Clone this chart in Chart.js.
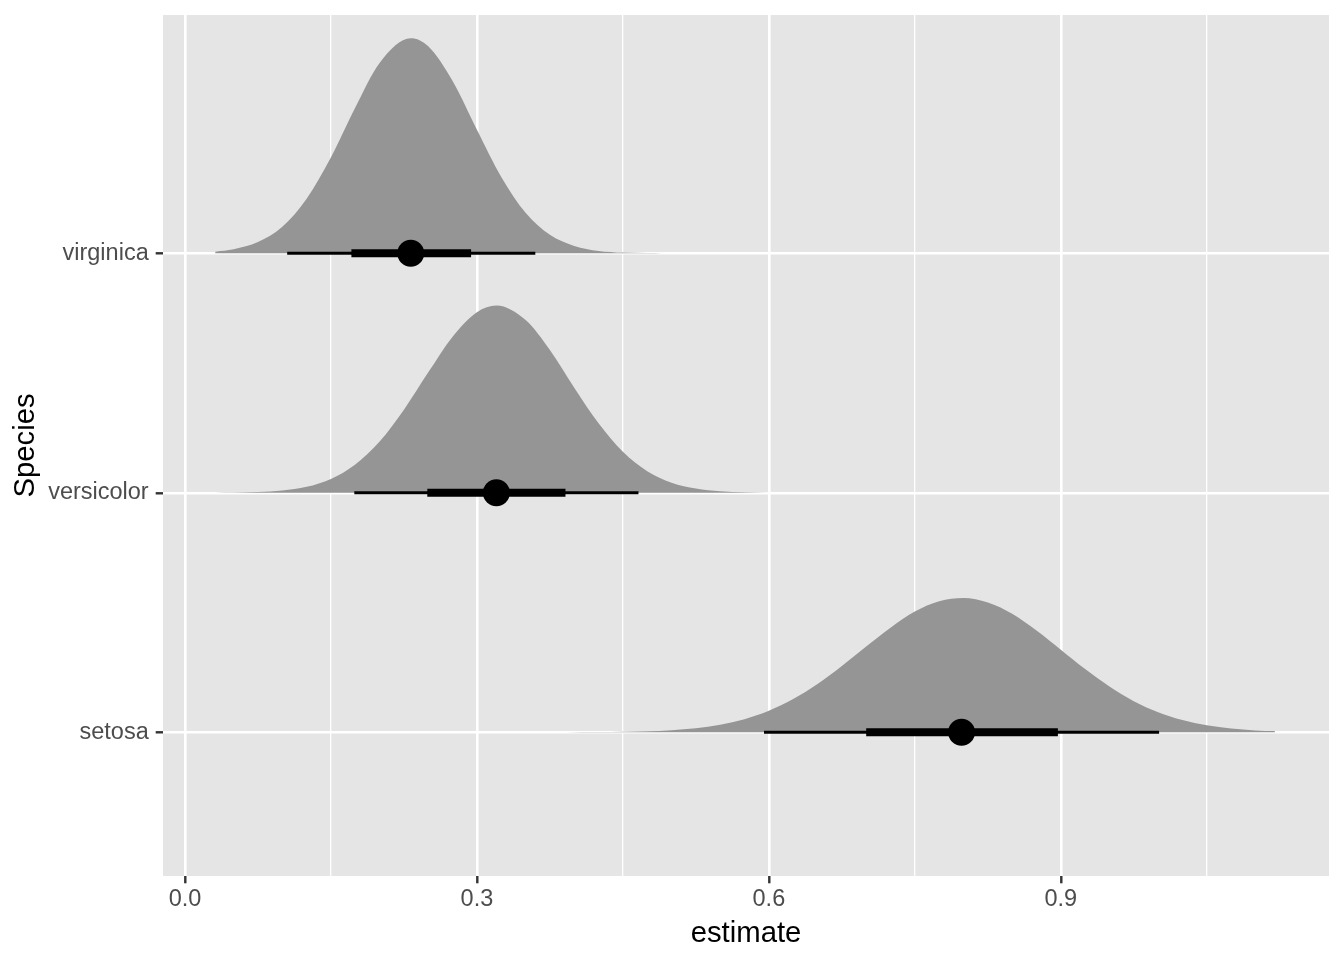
<!DOCTYPE html>
<html>
<head>
<meta charset="utf-8">
<script src="https://cdn.jsdelivr.net/npm/chart.js@4.4.1/dist/chart.umd.min.js"></script>
<style>
  html, body { margin: 0; padding: 0; background: #fff; }
  #wrap { width: 1344px; height: 960px; }
</style>
</head>
<body>
<div id="wrap"><canvas id="myChart" width="1344" height="960"></canvas></div>
<script>
'use strict'

// categories (bottom to top)
const species = ['setosa', 'versicolor', 'virginica']

// point estimate and intervals (66% thick, 95% thin)
const pointEst = [0.798, 0.320, 0.232]
const lo66 = [0.700, 0.249, 0.171]
const hi66 = [0.897, 0.391, 0.294]
const lo95 = [0.595, 0.174, 0.105]
const hi95 = [1.001, 0.466, 0.360]

// slab heights (in category units above the baseline)
const setosaX = [0.392, 0.425, 0.45, 0.475, 0.50, 0.525, 0.55, 0.575, 0.60, 0.625, 0.65, 0.675, 0.70, 0.725, 0.75, 0.775, 0.80, 0.825, 0.85, 0.875, 0.90, 0.925, 0.95, 0.975, 1.00, 1.025, 1.05, 1.075, 1.10, 1.120]
const setosaH = [0.0002, 0.0009, 0.002, 0.0043, 0.009, 0.017, 0.032, 0.055, 0.090, 0.139, 0.202, 0.277, 0.358, 0.437, 0.504, 0.547, 0.561, 0.542, 0.495, 0.425, 0.345, 0.264, 0.191, 0.130, 0.084, 0.051, 0.029, 0.016, 0.008, 0.005]

const versicolorX = [0.031, 0.05, 0.075, 0.10, 0.125, 0.15, 0.175, 0.20, 0.225, 0.25, 0.275, 0.30, 0.32, 0.35, 0.375, 0.40, 0.425, 0.45, 0.475, 0.50, 0.525, 0.55, 0.575, 0.60]
const versicolorH = [0.0004, 0.0011, 0.0035, 0.010, 0.025, 0.058, 0.118, 0.214, 0.347, 0.503, 0.652, 0.754, 0.782, 0.721, 0.596, 0.439, 0.290, 0.171, 0.090, 0.042, 0.018, 0.0067, 0.0022, 0.0007]

const virginicaX = [0.031, 0.05, 0.075, 0.10, 0.125, 0.15, 0.175, 0.20, 0.232, 0.25, 0.275, 0.30, 0.325, 0.35, 0.375, 0.40, 0.425, 0.45, 0.475, 0.49]
const virginicaH = [0.007, 0.017, 0.047, 0.111, 0.228, 0.401, 0.609, 0.795, 0.898, 0.864, 0.719, 0.516, 0.319, 0.169, 0.077, 0.031, 0.010, 0.003, 0.001, 0.0003]

// axis breaks
const xBreaks = [0, 0.3, 0.6, 0.9]
const xMinor = [0.15, 0.45, 0.75, 1.05]
const yBreaks = [1, 2, 3]

const slabX = [setosaX, versicolorX, virginicaX]
const slabH = [setosaH, versicolorH, virginicaH]

const isMajor = v => xBreaks.some(b => Math.abs(b - v) < 1e-9)

const datasets = []

// point estimates
datasets.push({
  data: pointEst.map((v, i) => ({x: v, y: yBreaks[i]})),
  showLine: false,
  pointRadius: 13.5,
  pointBackgroundColor: '#000',
  pointBorderWidth: 0,
  pointHoverRadius: 13.5
})

// intervals
species.forEach((s, i) => {
  datasets.push({
    data: [{x: lo66[i], y: yBreaks[i]}, {x: hi66[i], y: yBreaks[i]}],
    borderColor: '#000',
    borderWidth: 8,
    borderCapStyle: 'butt',
    pointRadius: 0
  })
  datasets.push({
    data: [{x: lo95[i], y: yBreaks[i]}, {x: hi95[i], y: yBreaks[i]}],
    borderColor: '#000',
    borderWidth: 3,
    borderCapStyle: 'butt',
    pointRadius: 0
  })
})

// slabs
species.forEach((s, i) => {
  datasets.push({
    data: slabX[i].map((x, j) => ({x: x, y: yBreaks[i] + slabH[i][j]})),
    borderColor: 'rgba(0,0,0,0)',
    borderWidth: 0,
    backgroundColor: '#959595',
    fill: {value: yBreaks[i]},
    cubicInterpolationMode: 'monotone',
    pointRadius: 0
  })
})

const panelBg = {
  id: 'panelBg',
  beforeDraw(chart) {
    const {ctx, chartArea: a} = chart
    ctx.save()
    ctx.fillStyle = '#E5E5E5'
    ctx.fillRect(a.left, a.top, a.right - a.left, a.bottom - a.top)
    ctx.restore()
  }
}

const ctx = document.getElementById('myChart')

new Chart(ctx, {
  type: 'line',
  data: {datasets: datasets},
  plugins: [panelBg],
  options: {
    responsive: false,
    animation: false,
    layout: {padding: {top: 15, right: 15, left: 0, bottom: 0}},
    plugins: {legend: {display: false}, tooltip: {enabled: false}},
    scales: {
      x: {
        type: 'linear',
        min: -0.0226,
        max: 1.1756,
        afterBuildTicks: scale => {
          scale.ticks = xBreaks.concat(xMinor).sort((a, b) => a - b).map(v => ({value: v}))
        },
        afterFit: scale => {
          scale.height = 84
          scale.paddingLeft = 0
          scale.paddingRight = 0
        },
        border: {display: false},
        grid: {
          color: '#fff',
          lineWidth: c => isMajor(c.tick.value) ? 2.6 : 1.3,
          drawTicks: true,
          tickLength: 7.3,
          tickWidth: 2.4,
          tickColor: c => isMajor(c.tick.value) ? '#333333' : 'rgba(0,0,0,0)'
        },
        ticks: {
          autoSkip: false,
          maxRotation: 0,
          padding: 2,
          color: '#4D4D4D',
          font: {family: 'Liberation Sans', size: 23.5},
          callback: v => isMajor(v) ? v.toFixed(1) : ''
        },
        title: {
          display: true,
          text: 'estimate',
          color: '#000',
          font: {family: 'Liberation Sans', size: 29.3},
          padding: {top: 0, bottom: 9}
        }
      },
      y: {
        type: 'linear',
        min: 0.4,
        max: 3.995,
        afterBuildTicks: scale => {
          scale.ticks = yBreaks.map(v => ({value: v}))
        },
        afterFit: scale => {
          scale.width = 163
          scale.paddingTop = 0
          scale.paddingBottom = 0
        },
        border: {display: false},
        grid: {
          color: '#fff',
          lineWidth: 2.6,
          drawTicks: true,
          tickLength: 7.3,
          tickWidth: 2.4,
          tickColor: '#333333'
        },
        ticks: {
          padding: 7,
          color: '#4D4D4D',
          font: {family: 'Liberation Sans', size: 23.5},
          callback: v => species[v - 1]
        },
        title: {
          display: true,
          text: 'Species',
          color: '#000',
          font: {family: 'Liberation Sans', size: 29.3},
          padding: {top: 8, bottom: 0}
        }
      }
    }
  }
})
</script>
</body>
</html>
